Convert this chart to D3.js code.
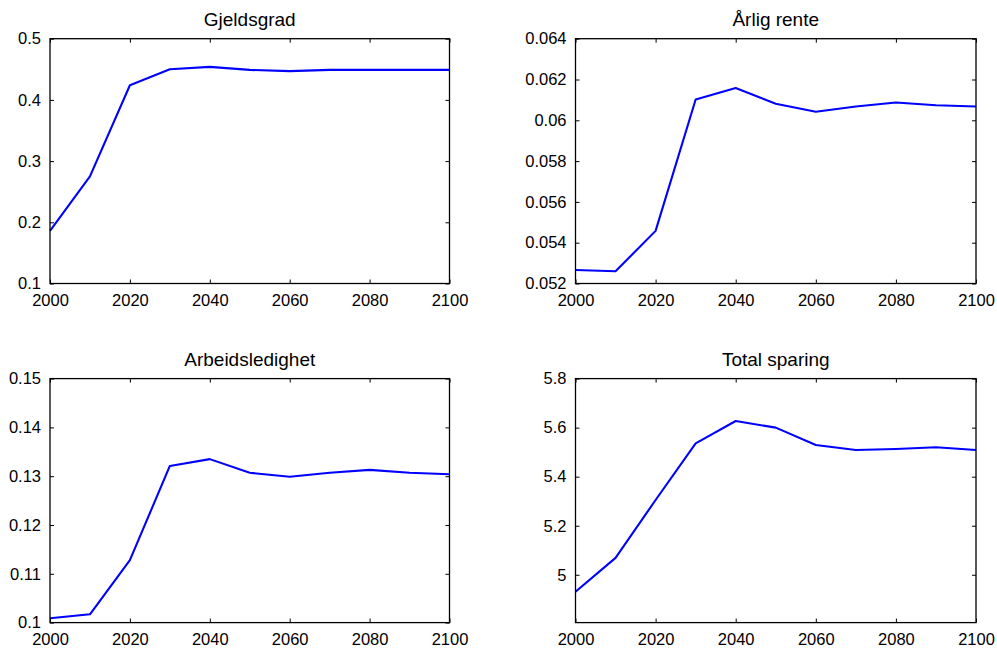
<!DOCTYPE html>
<html>
<head>
<meta charset="utf-8">
<script src="https://cdn.jsdelivr.net/npm/d3@7"></script>
<style>
  html, body { margin: 0; padding: 0; background: #fff; }
  svg { display: block; }
  text { font-family: "Liberation Sans", Arial, Helvetica, sans-serif; fill: #000; }
</style>
</head>
<body>
<svg id="chart" width="997" height="651"></svg>
<script>
// Simulated paths, one value per decade
const years = [2000, 2010, 2020, 2030, 2040, 2050, 2060, 2070, 2080, 2090, 2100];

const gjeldsgrad = [0.186, 0.275, 0.424, 0.450, 0.454, 0.449, 0.447, 0.449, 0.449, 0.449, 0.449];
const arligRente = [0.05266, 0.05260, 0.05458, 0.06102, 0.06158, 0.06081, 0.06042, 0.06068, 0.06087, 0.06074, 0.06068];
const arbeidsledighet = [0.1009, 0.1017, 0.1128, 0.1321, 0.1335, 0.1307, 0.1299, 0.1307, 0.1313, 0.1307, 0.1304];
const totalSparing = [4.931, 5.069, 5.305, 5.536, 5.627, 5.600, 5.529, 5.509, 5.513, 5.520, 5.509];

const xTicks = [2000, 2020, 2040, 2060, 2080, 2100];
const yTicksGjeld = [0.1, 0.2, 0.3, 0.4, 0.5];
const yTicksRente = [0.052, 0.054, 0.056, 0.058, 0.060, 0.062, 0.064];
const yTicksLedighet = [0.10, 0.11, 0.12, 0.13, 0.14, 0.15];
const yTicksSparing = [5.0, 5.2, 5.4, 5.6, 5.8];

const titles = ["Gjeldsgrad", "Årlig rente", "Arbeidsledighet", "Total sparing"];

const panels = [
  { title: titles[0], values: gjeldsgrad, domain: [0.1, 0.5], ticks: yTicksGjeld,
    fmt: d => String(+d.toFixed(3)), box: { left: 50, right: 449.5, top: 38.7, bottom: 283.5 } },
  { title: titles[1], values: arligRente, domain: [0.052, 0.064], ticks: yTicksRente,
    fmt: d => String(+d.toFixed(4)), box: { left: 575.5, right: 976, top: 38.7, bottom: 283.5 } },
  { title: titles[2], values: arbeidsledighet, domain: [0.1, 0.15], ticks: yTicksLedighet,
    fmt: d => String(+d.toFixed(3)), box: { left: 50, right: 449.5, top: 378.6, bottom: 622.6 } },
  { title: titles[3], values: totalSparing, domain: [4.805, 5.8], ticks: yTicksSparing,
    fmt: d => String(+d.toFixed(2)), box: { left: 575.5, right: 976, top: 378.6, bottom: 622.6 } }
];

const svg = d3.select("#chart");
const tickLen = 4;

panels.forEach(p => {
  const b = p.box;
  const x = d3.scaleLinear().domain([2000, 2100]).range([b.left, b.right]);
  const y = d3.scaleLinear().domain(p.domain).range([b.bottom, b.top]);
  const g = svg.append("g");

  // data line
  g.append("path")
    .datum(years.map((yr, i) => [yr, p.values[i]]))
    .attr("fill", "none")
    .attr("stroke", "#0000ff")
    .attr("stroke-width", 2.1)
    .attr("stroke-linejoin", "round")
    .attr("d", d3.line().x(d => x(d[0])).y(d => y(d[1])));

  // bottom and left axes with inward ticks
  const xAxis = d3.axisBottom(x).tickValues(xTicks).tickFormat(d3.format("d"))
    .tickSizeInner(-tickLen).tickSizeOuter(0).tickPadding(11);
  const yAxis = d3.axisLeft(y).tickValues(p.ticks).tickFormat(p.fmt)
    .tickSizeInner(-tickLen).tickSizeOuter(0).tickPadding(9);
  // mirrored ticks on top and right
  const xTop = d3.axisTop(x).tickValues(xTicks).tickFormat("")
    .tickSizeInner(-tickLen).tickSizeOuter(0);
  const yRight = d3.axisRight(y).tickValues(p.ticks).tickFormat("")
    .tickSizeInner(-tickLen).tickSizeOuter(0);

  const styleAxis = sel => {
    sel.select(".domain").remove();
    sel.selectAll(".tick line").attr("stroke", "#000").attr("stroke-width", 1);
    sel.selectAll("text").attr("font-size", 16.5).attr("fill", "#000")
      .style("font-family", '"Liberation Sans", Arial, sans-serif');
  };

  g.append("g").attr("transform", `translate(0,${b.bottom})`).call(xAxis).call(styleAxis);
  g.append("g").attr("transform", `translate(${b.left},0)`).call(yAxis).call(styleAxis);
  g.append("g").attr("transform", `translate(0,${b.top})`).call(xTop).call(styleAxis);
  g.append("g").attr("transform", `translate(${b.right},0)`).call(yRight).call(styleAxis);

  // frame
  g.append("rect")
    .attr("x", b.left).attr("y", b.top)
    .attr("width", b.right - b.left).attr("height", b.bottom - b.top)
    .attr("fill", "none").attr("stroke", "#000").attr("stroke-width", 1.3);

  // title
  g.append("text")
    .attr("x", (b.left + b.right) / 2)
    .attr("y", b.top - 13)
    .attr("text-anchor", "middle")
    .attr("font-size", 19)
    .text(p.title);
});
</script>
</body>
</html>
